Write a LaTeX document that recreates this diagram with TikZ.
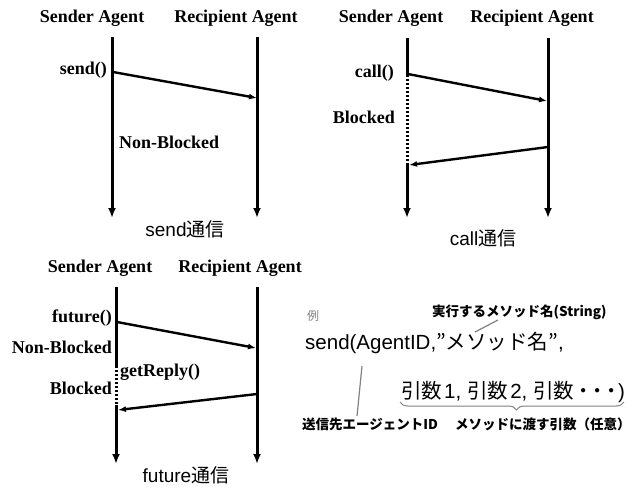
\documentclass[tikz,border=0pt]{standalone}
\usepackage{fontspec}
\setmainfont{Liberation Serif}
\setsansfont{Liberation Sans}
\newfontfamily\cjk{Noto Sans CJK JP}
\usetikzlibrary{arrows.meta,decorations.pathreplacing}
\begin{document}
\begin{tikzpicture}[x=1pt,y=-1pt,
  hdr/.style={font=\fontsize{18}{20}\selectfont\bfseries, inner sep=0pt},
  lbl/.style={font=\fontsize{18}{20}\selectfont\bfseries, inner sep=0pt},
  capt/.style={font=\fontsize{19}{21}\selectfont\sffamily, inner sep=0pt},
  life/.style={line width=3pt, -{Latex[length=10pt,width=8pt]}},
  lifeplain/.style={line width=3pt},
  blk/.style={line width=3pt, dash pattern=on 2pt off 2pt},
  msg/.style={line width=2.4pt, -{Latex[length=8pt,width=6pt]}},
  jsm/.style={font=\fontsize{13.5}{15}\selectfont\cjk\bfseries, inner sep=0pt},
  jbig/.style={font=\fontsize{20.5}{22}\selectfont\sffamily, inner sep=0pt},
  leader/.style={gray, line width=1.2pt},
]
\useasboundingbox (0,0) rectangle (634,488);

% ---------- panel 1: send ----------
\node[hdr] (h1s) at (92,18) {Sender Agent};
\node[hdr] (h1r) at (236,18) {Recipient Agent};
\coordinate (s1t) at (112,37); \coordinate (s1b) at (112,218);
\coordinate (r1t) at (257,37); \coordinate (r1b) at (257,218);
\draw[life] (s1t) -- (s1b);
\draw[life] (r1t) -- (r1b);
\coordinate (m1a) at (113,72); \coordinate (m1b) at (257,98);
\draw[msg] (m1a) -- (m1b);
\node[lbl, anchor=east] (l1) at (107,70) {send()};
\node[lbl, anchor=west] (nb1) at (119,142) {Non-Blocked};
\node[capt] (c1) at (185,229) {send{\cjk 通信}};

% ---------- panel 2: call ----------
\node[hdr] (h2s) at (391,18) {Sender Agent};
\node[hdr] (h2r) at (532,18) {Recipient Agent};
\coordinate (s2t) at (407,38); \coordinate (s2a) at (407,75);
\coordinate (s2c) at (407,163); \coordinate (s2b) at (407,218);
\coordinate (r2t) at (548,38); \coordinate (r2b) at (548,218);
\draw[lifeplain] (s2t) -- (s2a);
\draw[blk] (s2a) -- (s2c);
\draw[life] (s2c) -- (s2b);
\draw[life] (r2t) -- (r2b);
\coordinate (m2a) at (408,74); \coordinate (m2b) at (547,101);
\draw[msg] (m2a) -- (m2b);
\coordinate (m2c) at (548,147); \coordinate (m2d) at (409,165);
\draw[msg] (m2c) -- (m2d);
\node[lbl, anchor=east] (l2) at (394,73) {call()};
\node[lbl, anchor=east] (b2) at (395,117) {Blocked};
\node[capt] (c2) at (483,238) {call{\cjk 通信}};

% ---------- panel 3: future ----------
\node[hdr] (h3s) at (100,268) {Sender Agent};
\node[hdr] (h3r) at (240,268) {Recipient Agent};
\coordinate (s3t) at (116,287); \coordinate (s3a) at (116,366);
\coordinate (s3c) at (116,405); \coordinate (s3b) at (116,464);
\coordinate (r3t) at (257,287); \coordinate (r3b) at (257,464);
\draw[lifeplain] (s3t) -- (s3a);
\draw[blk] (s3a) -- (s3c);
\draw[life] (s3c) -- (s3b);
\draw[life] (r3t) -- (r3b);
\coordinate (m3a) at (117,322); \coordinate (m3b) at (256,348);
\draw[msg] (m3a) -- (m3b);
\coordinate (m3c) at (257,394); \coordinate (m3d) at (118,410);
\draw[msg] (m3c) -- (m3d);
\node[lbl, anchor=east] (l3) at (112,318) {future()};
\node[lbl, anchor=east] (nb3) at (112,347) {Non-Blocked};
\node[lbl, anchor=west] (g3) at (120,372) {getReply()};
\node[lbl, anchor=east] (b3) at (112,388) {Blocked};
\node[capt] (c3) at (186,475) {future{\cjk 通信}};

% ---------- example ----------
\node[font=\fontsize{12}{14}\selectfont\cjk, text=gray, inner sep=0pt] (rei) at (313,316) {例};
\node[jsm, anchor=west] (meth) at (432,312) {実行するメソッド名(String)};
\node[jbig, anchor=west] (call) at (305,343) {send(AgentID,{\cjk ”メソッド名”},};
\node[jbig, anchor=west] (args) at (401,392) {{\cjk 引数}\hspace{2pt}1,\hspace{6pt}{\cjk 引数}\hspace{2pt}2,\hspace{6pt}{\cjk 引数}{\cjk\bfseries \hspace{4pt}･\hspace{4pt}･\hspace{4pt}･}\hspace{1pt})};
\coordinate (br1) at (400,402); \coordinate (br2) at (624,402);
\draw[gray, line width=1pt, decorate, decoration={brace, mirror, amplitude=8pt, aspect=0.52}] (br1) -- (br2);
\node[jsm, anchor=west] (dest) at (302,424) {送信先エージェントID};
\node[jsm, anchor=west] (argd) at (455,424) {メソッドに渡す引数（任意）};
\coordinate (ld1) at (362,366); \coordinate (ld2) at (357,416);
\draw[leader] (ld1) -- (ld2);
\coordinate (lm1) at (498,320); \coordinate (lm2) at (475,332);
\draw[leader] (lm1) -- (lm2);
\end{tikzpicture}
\end{document}
